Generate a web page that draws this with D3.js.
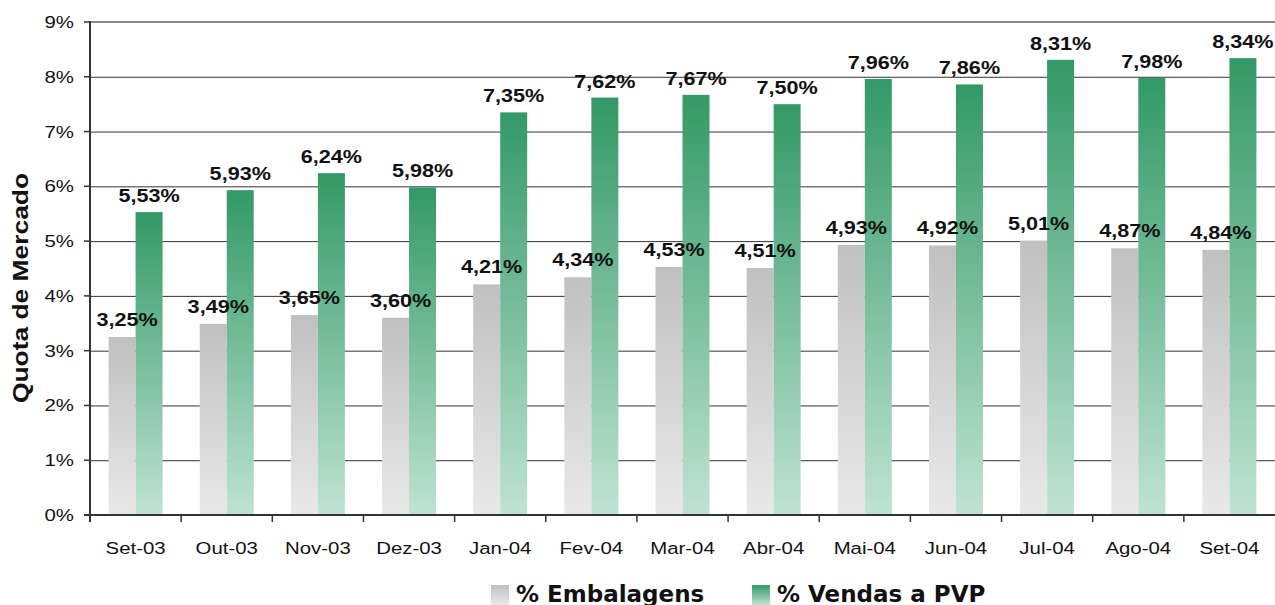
<!DOCTYPE html>
<html>
<head>
<meta charset="utf-8">
<script src="https://cdn.jsdelivr.net/npm/d3@7"></script>
<style>
  body { margin: 0; background: #fff; }
  svg { display: block; font-family: "Liberation Sans", Arial, sans-serif; }
</style>
</head>
<body>
<svg width="1275" height="605"></svg>
<script>
// chart data
var months = ["Set-03", "Out-03", "Nov-03", "Dez-03", "Jan-04", "Fev-04", "Mar-04",
  "Abr-04", "Mai-04", "Jun-04", "Jul-04", "Ago-04", "Set-04"];
var embalagens = [3.25, 3.49, 3.65, 3.60, 4.21, 4.34, 4.53, 4.51, 4.93, 4.92, 5.01, 4.87, 4.84];
var vendasPVP = [5.53, 5.93, 6.24, 5.98, 7.35, 7.62, 7.67, 7.50, 7.96, 7.86, 8.31, 7.98, 8.34];
var yTicks = [0, 1, 2, 3, 4, 5, 6, 7, 8, 9];
var seriesNames = ["% Embalagens", "% Vendas a PVP"];

var svg = d3.select("svg"),
  plotLeft = 90, plotRight = 1275, plotTop = 22, plotBottom = 515,
  stretch = 1.2; // the original text is drawn a bit wider than normal

var x = d3.scaleBand().domain(months).range([plotLeft, plotRight]).paddingInner(0).paddingOuter(0);
var y = d3.scaleLinear().domain([0, 9]).range([plotBottom, plotTop]);
var fmt = function (v) { return v.toFixed(2).replace(".", ",") + "%"; };
var barW = 27, sidePad = (x.bandwidth() - 2 * barW) / 2;

// gradients
var defs = svg.append("defs");
function grad(id, c1, c2) {
  var g = defs.append("linearGradient").attr("id", id)
    .attr("x1", 0).attr("y1", 0).attr("x2", 0).attr("y2", 1);
  g.append("stop").attr("offset", "0%").attr("stop-color", c1);
  g.append("stop").attr("offset", "100%").attr("stop-color", c2);
}
grad("gGrey", "#c0c0c0", "#e9e9e9");
grad("gGreen", "#339966", "#bfe3d3");

// stretched text helper
function stext(sel, px, py, anchor) {
  return sel.append("text")
    .attr("transform", "translate(" + px + "," + py + ") scale(" + stretch + ",1)")
    .attr("text-anchor", anchor || "middle");
}

// gridlines
svg.append("g").selectAll("line")
  .data(yTicks.filter(function (d) { return d > 0 && d < 9; }))
  .enter().append("line")
  .attr("x1", plotLeft).attr("x2", plotRight)
  .attr("y1", function (d) { return y(d) + 0.5; })
  .attr("y2", function (d) { return y(d) + 0.5; })
  .attr("stroke", "#333").attr("stroke-width", 1);
svg.append("line")
  .attr("x1", plotLeft).attr("x2", plotRight).attr("y1", y(9)).attr("y2", y(9))
  .attr("stroke", "#888").attr("stroke-width", 2);

// bars
var groups = svg.append("g").selectAll("g").data(months).enter().append("g");
groups.append("rect")
  .attr("x", function (d) { return x(d) + sidePad; })
  .attr("y", function (d, i) { return y(embalagens[i]); })
  .attr("width", barW)
  .attr("height", function (d, i) { return plotBottom - y(embalagens[i]); })
  .attr("fill", "url(#gGrey)");
groups.append("rect")
  .attr("x", function (d) { return x(d) + sidePad + barW; })
  .attr("y", function (d, i) { return y(vendasPVP[i]); })
  .attr("width", barW)
  .attr("height", function (d, i) { return plotBottom - y(vendasPVP[i]); })
  .attr("fill", "url(#gGreen)");

// axes
svg.append("line").attr("x1", plotLeft).attr("x2", plotLeft).attr("y1", plotTop - 1).attr("y2", plotBottom + 7)
  .attr("stroke", "#333").attr("stroke-width", 2);
svg.append("line").attr("x1", plotLeft - 6).attr("x2", plotRight).attr("y1", plotBottom).attr("y2", plotBottom)
  .attr("stroke", "#333").attr("stroke-width", 2);
svg.append("g").selectAll("line").data(yTicks).enter().append("line")
  .attr("x1", plotLeft - 6).attr("x2", plotLeft)
  .attr("y1", function (d) { return y(d); }).attr("y2", function (d) { return y(d); })
  .attr("stroke", "#333").attr("stroke-width", 1.5);
svg.append("g").selectAll("line").data(months.slice(1)).enter().append("line")
  .attr("x1", function (d) { return x(d); }).attr("x2", function (d) { return x(d); })
  .attr("y1", plotBottom).attr("y2", plotBottom + 7)
  .attr("stroke", "#333").attr("stroke-width", 1.5);

// y tick labels
yTicks.forEach(function (t) {
  stext(svg, 74, y(t) + 6, "end").attr("font-size", 17).attr("fill", "#111").text(t + "%");
});

// x labels
months.forEach(function (m) {
  stext(svg, x(m) + x.bandwidth() / 2, 554).attr("font-size", 17).attr("fill", "#111").text(m);
});

// value labels
months.forEach(function (m, i) {
  stext(svg, x(m) + sidePad + barW / 2 + 5, y(embalagens[i]) - 11)
    .attr("font-size", 18).attr("font-weight", "bold").attr("fill", "#111").text(fmt(embalagens[i]));
  stext(svg, x(m) + sidePad + barW * 1.5, y(vendasPVP[i]) - 10)
    .attr("font-size", 18).attr("font-weight", "bold").attr("fill", "#111").text(fmt(vendasPVP[i]));
});

// y axis title
svg.append("text")
  .attr("transform", "translate(28,288) rotate(-90) scale(1.2,1)")
  .attr("text-anchor", "middle")
  .attr("font-size", 22).attr("font-weight", "bold").attr("fill", "#111")
  .text("Quota de Mercado");

// legend
var legendX = [491, 752];
seriesNames.forEach(function (name, i) {
  svg.append("rect").attr("x", legendX[i]).attr("y", 585).attr("width", 18).attr("height", 20)
    .attr("fill", i === 0 ? "url(#gGrey)" : "url(#gGreen)");
  svg.append("text").attr("x", legendX[i] + 25).attr("y", 602)
    .attr("font-family", "'DejaVu Sans', Verdana, sans-serif")
    .attr("font-size", 23).attr("font-weight", "bold").attr("fill", "#111")
    .text(name);
});
</script>
</body>
</html>
